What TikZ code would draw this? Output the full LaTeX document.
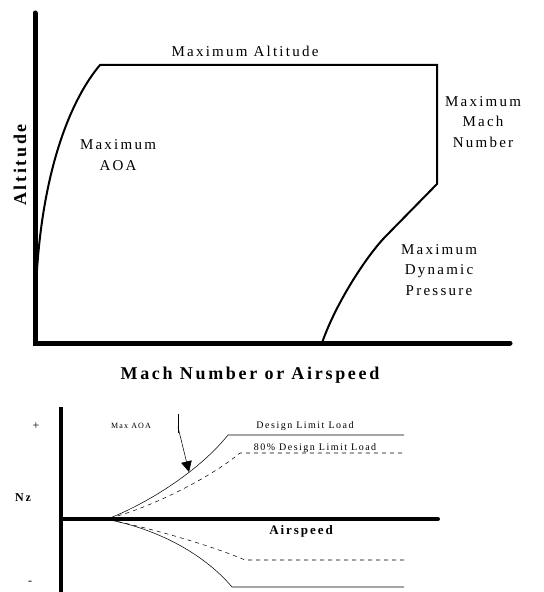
\documentclass[tikz,border=0pt]{standalone}
\usepackage{fontspec}
\setmainfont{Liberation Serif}
\newfontfamily\spaced[LetterSpace=15]{Liberation Serif}
\usetikzlibrary{arrows.meta}

\tikzset{
    axis/.style={line width=3.75pt, line cap=round},
    bound/.style={line width=1.5pt},
    lbl/.style={font=\spaced\fontsize{11.25pt}{15.5pt}\selectfont, align=center},
    head/.style={font=\spaced\bfseries\fontsize{13.5pt}{16pt}\selectfont},
    small/.style={font=\spaced\fontsize{7.5pt}{9pt}\selectfont}
}

\begin{document}
\begin{tikzpicture}[x=0.75pt,y=-0.75pt]
    \useasboundingbox (0,0) rectangle (543,592);

    % flight envelope
    \coordinate (1) at (35,13);
    \coordinate (2) at (35,343);
    \coordinate (3) at (510,343);
    \coordinate (4) at (37,270);
    \coordinate (5) at (100,65);
    \coordinate (6) at (437,65);
    \coordinate (7) at (437,184);
    \coordinate (8) at (385,237);
    \coordinate (9) at (322,343);

    \draw[axis] (1) -- (2) -- (3);
    \draw[bound] (4) .. controls (44,165) and (72,98) .. (5) -- (6) -- (7) -- (8)
        .. controls (365,258) and (335,305) .. (9);

    \node[lbl] (alt) at (245,51) {Maximum Altitude};
    \node[lbl] (aoa) at (118,155) {Maximum\\AOA};
    \node[lbl] (mach) at (483,122) {Maximum\\Mach\\Number};
    \node[lbl] (dyn) at (439,270) {Maximum\\Dynamic\\Pressure};
    \node[head, rotate=90] (yl) at (20,165) {Altitude};
    \node[head] (xl) at (250,375) {Mach Number or Airspeed};

    % load factor
    \coordinate (10) at (61,407);
    \coordinate (11) at (61,594);
    \coordinate (12) at (61,519);
    \coordinate (13) at (438,519);
    \coordinate (14) at (110,518);
    \coordinate (15) at (228,435);
    \coordinate (16) at (404,435);
    \coordinate (17) at (240,453);
    \coordinate (18) at (404,453);
    \coordinate (19) at (110,520);
    \coordinate (20) at (245,560);
    \coordinate (21) at (404,560);
    \coordinate (22) at (232,587);
    \coordinate (23) at (404,587);
    \coordinate (24) at (178,414);
    \coordinate (25) at (178,433);
    \coordinate (26) at (178,427);
    \coordinate (27) at (189,472);

    \draw[line width=3pt] (10) -- (11);
    \draw[line width=3pt, line cap=round] (12) -- (13);
    \draw[thin] (14) .. controls (150,502) and (200,470) .. (15) -- (16);
    \draw[thin, dashed] (14) .. controls (150,508) and (210,478) .. (17) -- (18);
    \draw[thin, dashed] (19) .. controls (150,528) and (210,545) .. (20) -- (21);
    \draw[thin] (19) .. controls (160,530) and (205,555) .. (22) -- (23);
    \draw[thin] (24) -- (25);
    \draw[thin, -{Triangle[length=8pt, width=8pt]}] (26) -- (27);

    \node[small, font=\spaced\fontsize{9pt}{10pt}\selectfont] (plus) at (36,426) {+};
    \node[small, font=\spaced\fontsize{9pt}{10pt}\selectfont] (minus) at (30,583) {-};
    \node[small, font=\spaced\bfseries\fontsize{9pt}{10pt}\selectfont] (nz) at (23,498) {Nz};
    \node[small, font=\spaced\fontsize{6pt}{7pt}\selectfont] (max) at (131,426) {Max AOA};
    \node[small] (dll) at (305,426) {Design Limit Load};
    \node[small] (dll80) at (315,448) {80\% Design Limit Load};
    \node[head, font=\spaced\bfseries\fontsize{9.75pt}{11pt}\selectfont] (as) at (301,531) {Airspeed};
\end{tikzpicture}
\end{document}
